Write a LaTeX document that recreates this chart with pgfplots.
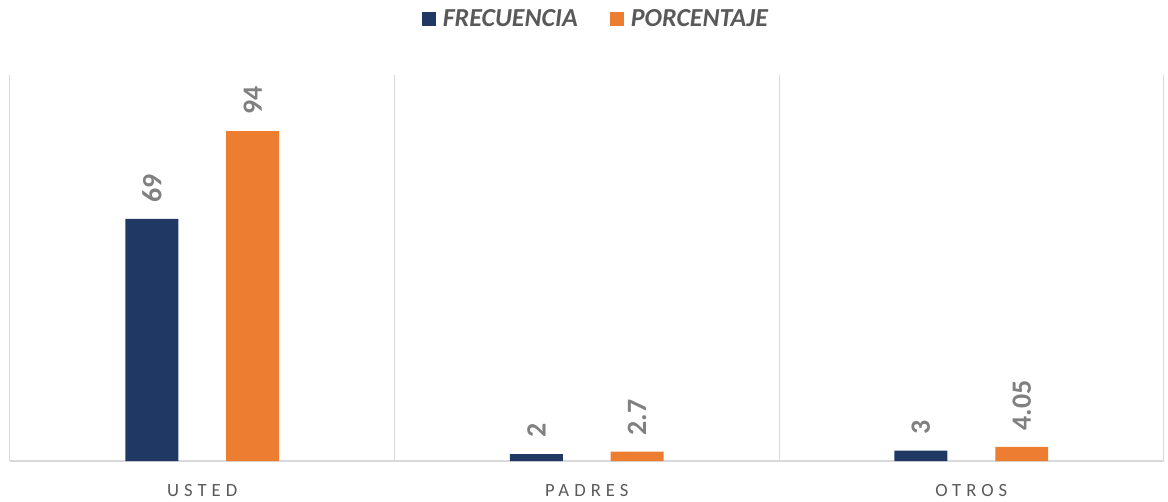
\documentclass[border=0pt]{standalone}
\usepackage{pgfplots}
\pgfplotsset{compat=1.18}
\usepackage{fontspec}
\setmainfont{Carlito}
\newfontfamily\spaced[LetterSpace=27]{Carlito}
\definecolor{navy}{HTML}{203864}
\definecolor{orng}{HTML}{ED7D31}
\definecolor{txtgray}{HTML}{595959}
\definecolor{lblgray}{HTML}{808080}
\definecolor{gridgray}{HTML}{D9D9D9}

\begin{document}
\begin{tikzpicture}
\path (0pt,0pt) rectangle (876pt,374.25pt);
\begin{axis}[
  at={(7.5pt,27.75pt)}, anchor=south west,
  scale only axis, width=867pt, height=290.25pt,
  xmin=-0.5, xmax=2.5, ymin=0, ymax=110,
  ybar=36pt, bar width=39.75pt,
  axis y line=none,
  axis x line*=bottom,
  x axis line style={draw=gridgray, line width=1pt, -},
  xtick={0,1,2},
  xticklabels={USTED, PADRES, OTROS},
  major tick length=0pt,
  x tick label style={font=\spaced\fontsize{14}{14}\selectfont, text=txtgray, yshift=-14pt},
  extra x ticks={-0.5,0.5,1.5,2.5},
  extra x tick labels={},
  extra x tick style={grid=major, major grid style={draw=gridgray, line width=0.75pt}},
  clip=false,
  /pgf/number format/assume math mode=true,
  nodes near coords,
  every node near coord/.append style={
    font=\bfseries\fontsize{21}{21}\selectfont, text=lblgray,
    rotate=90, anchor=west, inner sep=0pt, inner xsep=12pt},
  legend style={at={(0.5,1)}, anchor=center, yshift=42pt, xshift=7pt,
    draw=none, fill=none, legend columns=2,
    font=\bfseries\itshape\fontsize{19.5}{19.5}\selectfont, text=txtgray,
    /tikz/every odd column/.append style={column sep=3pt},
    /tikz/every even column/.append style={column sep=22pt}},
]
\addplot[fill=navy, draw=none,
  legend image code/.code={\fill[navy] (0pt,-5.5pt) rectangle (11pt,5.5pt);}]
  coordinates {(0,69) (1,2) (2,3)};
\addplot[fill=orng, draw=none,
  legend image code/.code={\fill[orng] (0pt,-5.5pt) rectangle (11pt,5.5pt);}]
  coordinates {(0,94) (1,2.7) (2,4.05)};
\legend{FRECUENCIA, PORCENTAJE}
\end{axis}
\end{tikzpicture}
\end{document}
